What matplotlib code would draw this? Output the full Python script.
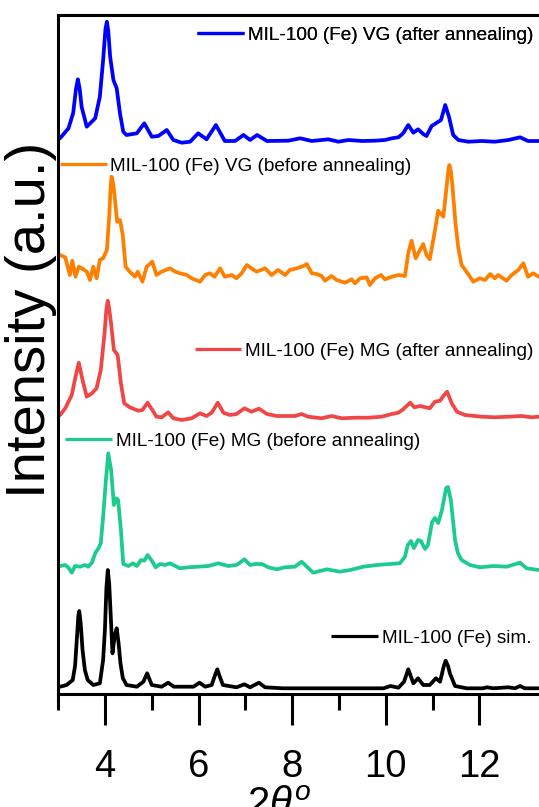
import matplotlib

matplotlib.use("Agg")

import matplotlib.pyplot as plt
from matplotlib.ticker import FixedLocator

plt.rcParams["font.family"] = ["Liberation Sans", "DejaVu Sans"]
plt.rcParams["mathtext.fontset"] = "custom"
plt.rcParams["mathtext.rm"] = "Liberation Sans"
plt.rcParams["mathtext.it"] = "Liberation Sans:italic"

# 2-theta (deg) and intensity above each pattern's own baseline (a.u.)
tt_sim = [3.04, 3.18, 3.31, 3.36, 3.40, 3.43, 3.45, 3.48, 3.52, 3.57, 3.63, 3.75,
          3.89, 3.96, 4.00, 4.03, 4.06, 4.09, 4.12, 4.16, 4.21, 4.25, 4.29, 4.33,
          4.38, 4.46, 4.68, 4.82, 4.90, 5.00, 5.21, 5.35, 5.47, 5.89, 6.02, 6.14,
          6.28, 6.36, 6.40, 6.44, 6.52, 6.81, 6.98, 7.10, 7.29, 7.42, 7.81, 8.52,
          9.24, 9.95, 10.10, 10.27, 10.39, 10.48, 10.59, 10.69, 10.80, 10.94, 11.07,
          11.16, 11.24, 11.28, 11.33, 11.37, 11.48, 11.73, 12.08, 12.16, 12.30,
          12.62, 12.76, 12.87, 12.97, 13.26]
int_sim = [1.3, 3, 8, 22, 50, 72, 77, 65, 38, 18, 8, 3,
           4.7, 28, 60, 100, 118, 104, 75, 34.7, 53, 59.7, 45, 25,
           10, 3, 1.3, 6.3, 14.7, 3, 1.3, 5.3, 1.3, 1.3, 5.3, 1.3,
           3, 14, 18.7, 13, 3, 0.7, 3.7, 0.7, 5.3, 0.7, -0.3, -0.3,
           -0.3, -0.3, 2, 0.3, 6.3, 18.7, 4.7, 9.7, 3, 3, 9.7,
           6.3, 22, 27.3, 22, 14.7, 2, -0.3, -0.3, 0.7, -0.3,
           0.7, -0.3, 2, -0.3, -0.3]

tt_mg_before = [3.04, 3.15, 3.22, 3.29, 3.36, 3.47, 3.57, 3.64, 3.72, 3.79, 3.86, 3.91,
                3.96, 4.02, 4.07, 4.13, 4.19, 4.24, 4.28, 4.34, 4.39, 4.50, 4.60, 4.68,
                4.77, 4.84, 4.91, 5.00, 5.08, 5.18, 5.28, 5.39, 5.50, 5.60, 5.78, 5.99,
                6.21, 6.42, 6.63, 6.81, 6.98, 7.10, 7.21, 7.35, 7.49, 7.67, 7.85, 8.06,
                8.20, 8.45, 8.74, 9.02, 9.24, 9.52, 9.81, 10.09, 10.30, 10.41, 10.47,
                10.54, 10.60, 10.69, 10.75, 10.84, 10.90, 10.99, 11.05, 11.12, 11.20,
                11.29, 11.33, 11.39, 11.48, 11.54, 11.62, 11.80, 12.01, 12.30, 12.58,
                12.87, 13.01, 13.26]
int_mg_before = [0, 1, -1.7, -6.7, 0, -0.7, 1, -0.7, 3.3, 12.7, 17.7, 22.7,
                 49.3, 86, 112.7, 96, 61, 67.7, 66, 36, 2, 0, 2.7, 0,
                 6, 5.3, 11, 5.3, -1.3, 2, 1, 2.7, 0, -2.3, -1.3, -0.7,
                 0, 2.7, 0, 1, 6.7, 1, 2, 2, -1.3, -3.3, -1.3, -0.7,
                 4.3, -6.7, -3.3, -5.7, -4, -0.7, 1, 2, 2.7, 9.3, 21,
                 25, 18, 26, 25, 17, 21, 44, 48, 43, 56,
                 78, 79, 66, 26, 13, 6, 1, -1.3, 0, -0.7,
                 3.3, -2.3, -4]

tt_mg_after = [3.04, 3.15, 3.29, 3.37, 3.44, 3.52, 3.61, 3.72, 3.82, 3.91, 3.99, 4.03,
               4.06, 4.09, 4.13, 4.19, 4.27, 4.34, 4.41, 4.53, 4.71, 4.80, 4.91, 5.01,
               5.10, 5.21, 5.35, 5.46, 5.64, 5.85, 6.03, 6.17, 6.28, 6.41, 6.53, 6.67,
               6.81, 6.98, 7.13, 7.29, 7.46, 7.67, 7.92, 8.06, 8.20, 8.34, 8.63, 8.84,
               9.06, 9.34, 9.63, 9.91, 10.13, 10.27, 10.37, 10.52, 10.61, 10.73, 10.85,
               10.94, 11.05, 11.16, 11.23, 11.31, 11.41, 11.52, 11.69, 12.05, 12.33,
               12.62, 12.90, 13.12, 13.27]
int_mg_after = [2, 8.7, 22, 40.3, 54.3, 37, 20.3, 23.7, 28.7, 47, 83.7, 108,
                116.3, 108, 93.7, 67, 62, 33.7, 13.7, 9.7, 6.3, 7, 14.3, 7,
                0.3, -0.3, 4.7, -1.3, -3, -1.3, 3.7, 1, 4.3, 14.3, 4.3, 2,
                3, 8.7, 5.3, 8.3, 3, 1, 1, 1, 3, 0.3, -1.3, 1,
                -1.3, -0.7, -0.7, 0.3, 3, 4.3, 7.7, 14.3, 9.7, 11, 9.7,
                8.7, 15.3, 16.3, 21, 25.3, 13.7, 5.3, 2, 0.3, -0.3,
                0.3, 1, -0.3, 0.3]

tt_vg_before = [3.04, 3.15, 3.25, 3.30, 3.37, 3.44, 3.54, 3.61, 3.68, 3.75, 3.82, 3.89,
                3.96, 4.04, 4.09, 4.12, 4.14, 4.17, 4.20, 4.26, 4.32, 4.38, 4.44, 4.53,
                4.64, 4.70, 4.80, 4.89, 5.01, 5.10, 5.21, 5.39, 5.50, 5.60, 5.75, 5.85,
                6.03, 6.14, 6.24, 6.34, 6.46, 6.56, 6.71, 6.81, 6.92, 7.03, 7.13, 7.24,
                7.42, 7.56, 7.70, 7.85, 7.95, 8.10, 8.24, 8.31, 8.42, 8.52, 8.63, 8.70,
                8.84, 8.95, 9.13, 9.27, 9.34, 9.45, 9.59, 9.66, 9.77, 9.90, 9.98, 10.13,
                10.27, 10.41, 10.48, 10.55, 10.64, 10.73, 10.80, 10.87, 10.94, 11.04,
                11.12, 11.23, 11.30, 11.34, 11.36, 11.39, 11.42, 11.49, 11.55, 11.62,
                11.76, 11.87, 12.01, 12.12, 12.23, 12.33, 12.40, 12.58, 12.69, 12.83,
                12.94, 13.04, 13.15, 13.27]
int_vg_before = [22, 19.7, 2, 16.3, 0.3, 10.3, 7.7, 5.3, -3, 10.3, -1.3, 17,
                 18.7, 27, 60.3, 90, 100.3, 95, 83.7, 55.3, 57, 42, 10.3, 5.3,
                 0.3, 5.3, -4.7, 10.3, 15.3, 2, 5.3, 8.7, 5.3, 3.7, 2, -1.3,
                 -4.7, 2, 3.7, 0.3, 8.7, 0.3, 2, -1.3, 3.7, 12, 8.7, 5.3,
                 8.7, 2, 7, 2, 7, 8.7, 11, 13, 3.7, 3, 1, -3.7,
                 1, -3, -5.7, -2.3, -6.3, -1.3, -0.3, -8, -1.3, 2, -2.3, 0.3,
                 2, 1, 23.7, 36.3, 18.7, 27, 33, 22, 17.7, 43.7,
                 66.3, 60.3, 90.3, 108, 112, 106, 93.7, 53.7, 28.7, 12,
                 3, -4.7, -1.3, -3, 3, -1.3, 2, -3.7, 2, 7,
                 13.7, 0.3, 3.7, 0.3]

tt_vg_after = [3.04, 3.22, 3.32, 3.38, 3.42, 3.46, 3.50, 3.61, 3.79, 3.89, 3.96, 4.01,
               4.04, 4.07, 4.11, 4.18, 4.25, 4.32, 4.39, 4.46, 4.68, 4.84, 5.00, 5.14,
               5.32, 5.46, 5.64, 5.82, 5.99, 6.17, 6.37, 6.56, 6.78, 6.96, 7.10, 7.25,
               7.46, 7.92, 8.17, 8.42, 8.77, 8.99, 9.20, 9.49, 9.77, 9.98, 10.13,
               10.27, 10.37, 10.48, 10.59, 10.69, 10.80, 10.87, 10.98, 11.09, 11.18,
               11.27, 11.35, 11.44, 11.55, 11.76, 12.05, 12.33, 12.62, 12.87, 13.04,
               13.27]
int_vg_after = [2.7, 12.7, 28, 52, 61.7, 52, 34.3, 14.3, 22.7, 44.3, 81, 112,
                119.3, 110, 84.3, 61, 52.7, 27.7, 9.3, 6, 7.7, 17.7, 4.3, 5,
                11, 1, -1.7, -0.7, 7.7, 1.7, 16, 0, 0, 6, 1, 6,
                0, 0.3, 2.7, 0, 1.7, -0.7, 1, 0, 0.3, 1, 2.7,
                3.7, 7.7, 16, 8.3, 11.7, 7, 5, 15, 18.3, 21,
                36, 24.3, 6, 1, -0.7, 0, -0.7, 1, 3.7, 0,
                0]

labels = [
    "MIL-100 (Fe) sim.",
    "MIL-100 (Fe) MG (before annealing)",
    "MIL-100 (Fe) MG (after annealing)",
    "MIL-100 (Fe) VG (before annealing)",
    "MIL-100 (Fe) VG (after annealing)",
]
offsets = [6, 128, 277, 417, 553]
colors = ["#000000", "#1dcc8c", "#f04646", "#ff8000", "#0000ff"]
# where each legend entry sits: (2-theta, intensity level)
legend_anchors = [(8.84, 55.7), (3.15, 253), (5.92, 343), (3.04, 528), (5.97, 659)]

series = [
    (tt_sim, int_sim),
    (tt_mg_before, int_mg_before),
    (tt_mg_after, int_mg_after),
    (tt_vg_before, int_vg_before),
    (tt_vg_after, int_vg_after),
]

fig = plt.figure(figsize=(5.39, 8.07), dpi=100)
ax = fig.add_axes((58.2 / 539, 1 - 694 / 807, 1 - 58.2 / 539, (694 - 15) / 807))

for (tt, counts), offset, color, label, anchor in zip(
    series, offsets, colors, labels, legend_anchors
):
    (line,) = ax.plot(
        tt,
        [c + offset for c in counts],
        color=color,
        linewidth=2.7,
        solid_joinstyle="round",
        solid_capstyle="round",
        label=label,
    )
    leg = ax.legend(
        handles=[line],
        loc="center left",
        bbox_to_anchor=anchor,
        bbox_transform=ax.transData,
        frameon=False,
        fontsize=13.7,
        handlelength=2.45,
        handletextpad=0.2,
        borderpad=0,
        borderaxespad=0,
    )
    for legline in leg.get_lines():
        legline.set_linewidth(2.3)
        legline.set_solid_capstyle("butt")
    ax.add_artist(leg)

ax.set_xlim(3, 13.274)
ax.set_ylim(0, 679)

ax.spines["right"].set_visible(False)
for side in ("left", "top", "bottom"):
    ax.spines[side].set_linewidth(2.2)

ax.xaxis.set_major_locator(FixedLocator([4, 6, 8, 10, 12]))
ax.xaxis.set_minor_locator(FixedLocator([3, 5, 7, 9, 11]))
ax.tick_params(axis="x", which="major", direction="out", length=22.3, width=2.2,
               labelsize=27.5, pad=17)
ax.tick_params(axis="x", which="minor", direction="out", length=11.5, width=2.2)
ax.tick_params(axis="y", which="both", left=False, labelleft=False)

fig.text(31 / 539, 1 - 319.5 / 807, "Intensity (a.u.)", rotation=90,
         ha="center", va="center", fontsize=40.5)
fig.text(279 / 539, 1 - 786 / 807, r"$2\theta^o$", ha="center", va="top",
         fontsize=29)

fig.savefig("out.png", dpi=100)
plt.close(fig)
